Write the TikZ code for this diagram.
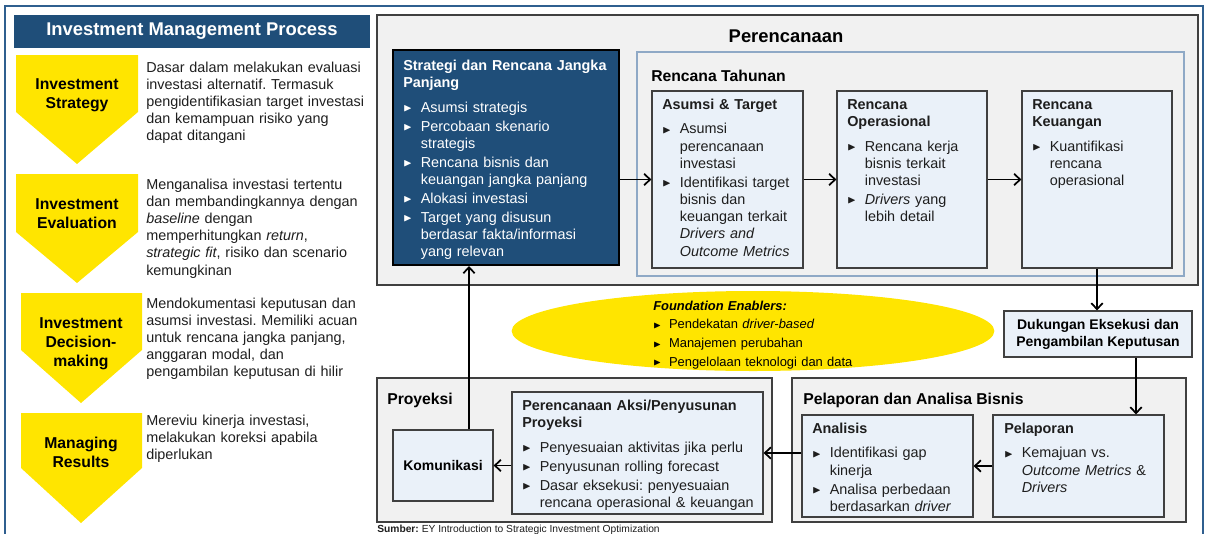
\documentclass[tikz,border=0pt]{standalone}
\usepackage{fontspec}
\setmainfont{Liberation Sans}
\usepackage{amssymb}
\usetikzlibrary{arrows.meta, calc, fit, shapes.geometric}

\definecolor{dblue}{HTML}{1F4E79}
\definecolor{frameblue}{HTML}{2F5F8F}
\definecolor{boxblue}{HTML}{EAF1F9}
\definecolor{panelgray}{HTML}{F1F1F1}
\definecolor{edgegray}{HTML}{404040}
\definecolor{yearblue}{HTML}{8FA9C6}
\definecolor{chevyellow}{HTML}{FFE500}
\definecolor{txt}{HTML}{1E1E1E}

\frenchspacing
\newcommand{\bul}{\raisebox{0.12ex}{\scalebox{0.78}{$\blacktriangleright$}}}
\newcommand{\itm}{\par\vspace{1.3pt}\hangindent=1.22em\hangafter=1\noindent\makebox[1.22em][l]{\bul}}
\newcommand{\boxhead}[1]{{\bfseries #1}\par\vspace{4.5pt}}

\tikzset{
  panel/.style={draw=edgegray, fill=panelgray, line width=1.1pt, inner sep=0pt},
  subbox/.style={draw=edgegray, fill=boxblue, line width=0.9pt, inner sep=0pt},
  yearbox/.style={draw=yearblue, fill=panelgray, line width=1pt, inner sep=0pt},
  bodytext/.style={anchor=base west, inner sep=0pt, text width=#1, align=left, text=txt, font=\fontsize{10.8}{12.9}\selectfont},
  bodytext/.default=150pt,
  headtext/.style={anchor=base west, inner sep=0pt, text=black, font=\fontsize{11.8}{14}\selectfont\bfseries},
  chevlabel/.style={align=center, inner sep=0pt, text=black, font=\fontsize{11.8}{14.3}\selectfont\bfseries},
  arr/.style={line width=1.3pt, -{Straight Barb[length=4.5pt,width=8.5pt]}},
}

\begin{document}
\begin{tikzpicture}[x=0.75pt, y=-0.75pt]
	\useasboundingbox (0,0) rectangle (1208,533);
	\draw[frameblue, line width=1.6pt] (5,6) rectangle (1203,560);
	% left panel: title bar
	\node[fit={(14,15) (370,48)}, inner sep=0pt, fill=dblue] (titlebar) {};
	\node[text=white, font=\fontsize{13.8}{16}\selectfont\bfseries] at (titlebar.center) (titletxt) {Investment Management Process};
	% yellow chevrons
	\fill[chevyellow] (16,55) -- (138,55) -- (138,112) -- (77,164) -- (16,112) -- cycle;
	\fill[chevyellow] (16,174) -- (138,174) -- (138,232) -- (77,283) -- (16,232) -- cycle;
	\fill[chevyellow] (21,293) -- (142,293) -- (142,350) -- (81,403) -- (21,350) -- cycle;
	\fill[chevyellow] (21,413) -- (142,413) -- (142,468) -- (81,523) -- (21,468) -- cycle;
	\node[chevlabel] at (77,95.5) (strategy) {Investment\\Strategy};
	\node[chevlabel] at (77,214) (evaluation) {Investment\\Evaluation};
	\node[chevlabel] at (81,343.5) (decision) {Investment\\Decision-\\making};
	\node[chevlabel] at (81,452.5) (managing) {Managing\\Results};
	% descriptions
	\node[bodytext=200pt] at (146,72) (desc1) {Dasar dalam melakukan evaluasi\\investasi alternatif. Termasuk\\pengidentifikasian target investasi\\dan kemampuan risiko yang\\dapat ditangani};
	\node[bodytext=200pt] at (146,189) (desc2) {Menganalisa investasi tertentu\\dan membandingkannya dengan\\\textit{baseline} dengan\\memperhitungkan \textit{return},\\\textit{strategic fit}, risiko dan scenario\\kemungkinan};
	\node[bodytext=200pt] at (146,308) (desc3) {Mendokumentasi keputusan dan\\asumsi investasi. Memiliki acuan\\untuk rencana jangka panjang,\\anggaran modal, dan\\pengambilan keputusan di hilir};
	\node[bodytext=200pt] at (146,425) (desc4) {Mereviu kinerja investasi,\\melakukan koreksi apabila\\diperlukan};

	% Perencanaan
	\node[panel, fit={(377,15) (1198,285)}] (plan) {};
	\node[font=\fontsize{13.8}{16}\selectfont\bfseries] at (786,36) (plantxt) {Perencanaan};
	\node[fit={(393,50) (619,265)}, inner sep=0pt, fill=dblue, draw=black, line width=1.5pt] (strat) {};
	\node[bodytext=170pt, text=white] at (403,70) (strattxt) {\boxhead{Strategi dan Rencana Jangka\newline Panjang}\itm Asumsi strategis\itm Percobaan skenario\newline strategis\itm Rencana bisnis dan\newline keuangan jangka panjang\itm Alokasi investasi\itm Target yang disusun\newline berdasar fakta/informasi\newline yang relevan\par};
	\node[yearbox, fit={(637,52) (1184,276)}] (year) {};
	\node[headtext] at (651,81) (yeartxt) {Rencana Tahunan};
	\node[subbox, fit={(652,91) (803,268)}] (asm) {};
	\node[subbox, fit={(837,91) (987,268)}] (ops) {};
	\node[subbox, fit={(1022,91) (1172,268)}] (keu) {};
	\node[bodytext] at (662,109) (asmtxt) {\boxhead{Asumsi \& Target}\itm Asumsi\newline perencanaan\newline investasi\itm Identifikasi target\newline bisnis dan\newline keuangan terkait\newline \textit{Drivers and}\newline \textit{Outcome Metrics}\par};
	\node[bodytext] at (847,109) (opstxt) {\boxhead{Rencana\newline Operasional}\itm Rencana kerja\newline bisnis terkait\newline investasi\itm \textit{Drivers} yang\newline lebih detail\par};
	\node[bodytext] at (1032,109) (keutxt) {\boxhead{Rencana\newline Keuangan}\itm Kuantifikasi\newline rencana\newline operasional\par};

	% Foundation Enablers
	\node[ellipse, fill=chevyellow, inner sep=0pt, minimum width=362pt, minimum height=60pt] at (753,331) (found) {};
	\node[bodytext=250pt, text=black, font=\fontsize{9.7}{12.9}\selectfont] at (653,310) (foundtxt) {\textbf{\textit{Foundation Enablers:}}\itm Pendekatan \textit{driver-based}\itm Manajemen perubahan\itm Pengelolaan teknologi dan data\par};

	% Dukungan
	\node[subbox, fit={(1004,311) (1192,357)}] (duk) {};
	\node[align=center, font=\fontsize{10.5}{12.8}\selectfont\bfseries] at (duk.center) (duktxt) {Dukungan Eksekusi dan\\Pengambilan Keputusan};

	% Pelaporan dan Analisa Bisnis
	\node[panel, fit={(792,378) (1186,522)}] (pab) {};
	\node[headtext] at (803,404) (pabtxt) {Pelaporan dan Analisa Bisnis};
	\node[subbox, fit={(802,415) (973,517)}] (ana) {};
	\node[subbox, fit={(993,415) (1164,517)}] (pel) {};
	\node[bodytext] at (812,433) (anatxt) {\boxhead{Analisis}\itm Identifikasi gap\newline kinerja\itm Analisa perbedaan\newline berdasarkan \textit{driver}\par};
	\node[bodytext] at (1004,433) (peltxt) {\boxhead{Pelaporan}\itm Kemajuan vs.\newline \textit{Outcome Metrics} \&\newline \textit{Drivers}\par};

	% Proyeksi
	\node[panel, fit={(377,378) (772,522)}] (proy) {};
	\node[headtext] at (387,404) (proytxt) {Proyeksi};
	\node[subbox, fit={(393,430) (493,501)}] (kom) {};
	\node[font=\fontsize{10.5}{12.8}\selectfont\bfseries] at (kom.center) (komtxt) {Komunikasi};
	\node[subbox, fit={(512,392) (763,514)}] (aksi) {};
	\node[bodytext=200pt] at (522,410) (aksitxt) {\boxhead{Perencanaan Aksi/Penyusunan\newline Proyeksi}\itm Penyesuaian aktivitas jika perlu\itm Penyusunan rolling forecast\itm Dasar eksekusi: penyesuaian\newline rencana operasional \& keuangan\par};

	\node[anchor=base west, inner sep=0pt, text=txt, font=\fontsize{7.7}{9}\selectfont] at (377,532) (src) {\textbf{Sumber:} EY Introduction to Strategic Investment Optimization};

	% connectors
	\draw[arr] (strat.east |- asm.west) -- (asm.west);
	\draw[arr] (asm.east) -- (ops.west);
	\draw[arr] (ops.east) -- (keu.west);
	\draw[arr] (keu.south) -- (keu.south |- duk.north);
	\draw[arr] (1136,0 |- duk.south) -- (1136,0 |- pel.north);
	\draw[arr] (pel.west) -- (ana.east);
	\draw[arr] (ana.west |- aksi.east) -- (aksi.east);
	\draw[arr] (aksi.west |- kom.east) -- (kom.east);
	\draw[arr] (469,0 |- kom.north) -- (469,0 |- strat.south);
\end{tikzpicture}
\end{document}
